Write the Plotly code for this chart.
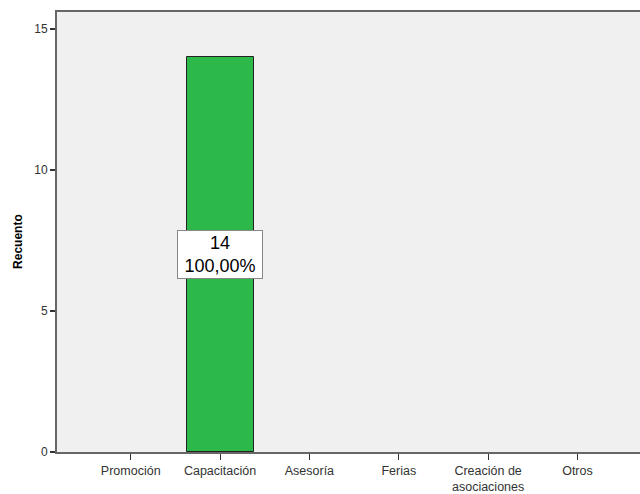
import plotly.graph_objects as go

categories = ["Promoción", "Capacitación", "Asesoría", "Ferias", "Creación de<br>asociaciones", "Otros"]
counts = [0, 14, 0, 0, 0, 0]
percent_labels = ["", "100,00%", "", "", "", ""]
y_ticks = [0, 5, 10, 15]

W, H = 640, 494
PLOT_L, PLOT_T, PLOT_B = 57, 12, 456
px_per_unit = (456 - 29) / 15.0
y_top = (PLOT_B - PLOT_T) / px_per_unit

fig = go.Figure()
fig.add_trace(go.Bar(
    x=categories, y=counts, width=0.75,
    marker=dict(color="#2DB84A",
                line=dict(color="#222222", width=[1 if v > 0 else 0 for v in counts])),
    hoverinfo="skip",
))

for c, v, p in zip(categories, counts, percent_labels):
    if v > 0:
        fig.add_annotation(
            x=c, y=v / 2, text=f"{v}<br>{p}", showarrow=False,
            bgcolor="#FFFFFF", bordercolor="#888888", borderwidth=1,
            width=84, height=47, borderpad=0, align="center",
            font=dict(family="Liberation Sans, Arial", size=18, color="#000000"),
        )

fig.add_annotation(
    text="<b>Recuento</b>", x=0, xref="paper", xanchor="center", xshift=-(57 - 18),
    y=(456 - 244) / px_per_unit, yref="y", yanchor="middle", showarrow=False, textangle=-90,
    font=dict(family="Liberation Sans, Arial", size=12, color="#000000"),
)

fig.update_layout(
    width=W, height=H,
    margin=dict(l=PLOT_L, r=0, t=PLOT_T, b=H - PLOT_B),
    paper_bgcolor="#FFFFFF", plot_bgcolor="#F0F0F0",
    showlegend=False, bargap=0,
    font=dict(family="Liberation Sans, Arial", size=12, color="#333333"),
)
fig.update_xaxes(
    type="category", range=[-0.825, 5.70],
    showline=True, linecolor="#666666", linewidth=2, mirror=True,
    ticks="outside", ticklen=6, tickcolor="#333333", tickwidth=1,
    showgrid=False, zeroline=False,
    tickfont=dict(size=12.5, color="#333333"),
)
fig.update_yaxes(
    range=[0, y_top],
    tickvals=y_ticks, ticktext=[str(t) for t in y_ticks],
    showline=True, linecolor="#666666", linewidth=2,
    ticks="outside", ticklen=5, tickcolor="#333333", tickwidth=2,
    showgrid=False, zeroline=False,
    tickfont=dict(size=12, color="#333333"),
)

fig.write_html(
    "out.html",
    config={"displayModeBar": False},
    post_script="document.body.style.margin='0';document.body.style.overflow='hidden';",
)
